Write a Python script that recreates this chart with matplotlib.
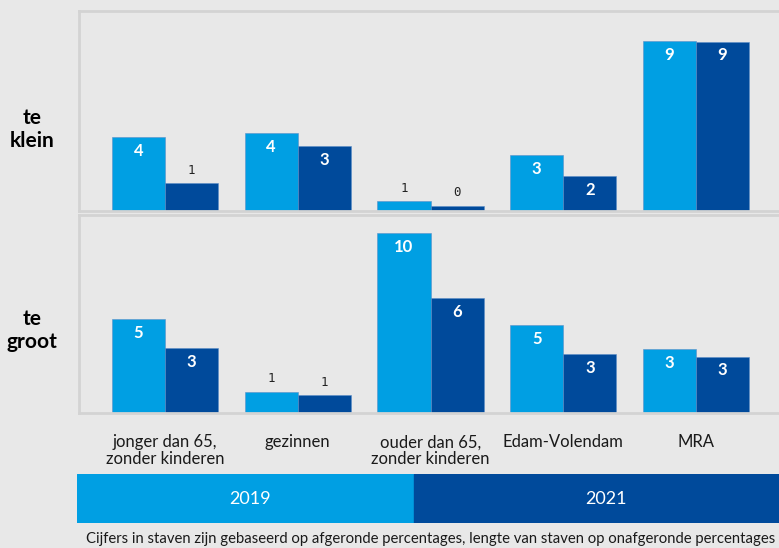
import numpy as np
import matplotlib.pyplot as plt
from matplotlib.patches import Rectangle

plt.rcParams['font.family'] = ['Lato', 'DejaVu Sans']

# Data: bar lengths (unrounded %) and labels (rounded %)
categories = ['jonger dan 65,\nzonder kinderen', 'gezinnen', 'ouder dan 65,\nzonder kinderen',
              'Edam-Volendam', 'MRA']
years = ['2019', '2021']
klein_2019 = [3.9, 4.1, 0.5, 2.95, 9.0]
klein_2021 = [1.45, 3.4, 0.25, 1.85, 8.95]
groot_2019 = [5.0, 1.15, 9.55, 4.65, 3.4]
groot_2021 = [3.45, 0.95, 6.1, 3.15, 3.0]
klein_lbl_2019 = [4, 4, 1, 3, 9]
klein_lbl_2021 = [1, 3, 0, 2, 9]
groot_lbl_2019 = [5, 1, 10, 5, 3]
groot_lbl_2021 = [3, 1, 6, 3, 3]
row_labels = ['te\nklein', 'te\ngroot']
footnote = 'Cijfers in staven zijn gebaseerd op afgeronde percentages, lengte van staven op onafgeronde percentages'

bg = '#e8e8e8'
light = '#009fe3'
dark = '#004a9b'
edge = '#d3d3d3'

fig = plt.figure(figsize=(7.79, 5.48), dpi=100, facecolor=bg)

x = np.arange(len(categories))
w = 0.4


def draw_panel(ax, v19, v21, l19, l21, ytop):
    ax.set_facecolor(bg)
    for vals, lbls, off, col in [(v19, l19, -w/2, light), (v21, l21, w/2, dark)]:
        bars = ax.bar(x + off, vals, w, color=col, edgecolor='#5d8fc8', linewidth=0.4)
        for b, v, l in zip(bars, vals, lbls):
            if v < 1.6:
                # small bars: value above the bar
                ax.annotate(str(l), (b.get_x() + w/2, v), xytext=(0, 9.5), textcoords='offset points',
                            ha='center', va='center', fontsize=9, color='#222222',
                            family='DejaVu Sans Mono')
            else:
                ax.annotate(str(l), (b.get_x() + w/2, v), xytext=(0, -10), textcoords='offset points',
                            ha='center', va='center', fontsize=12, color='white', fontweight='bold')
    ax.set_xlim(-0.648, 4.625)
    ax.set_ylim(0, ytop)
    ax.set_xticks([])
    ax.set_yticks([])
    ax.spines['right'].set_visible(False)
    for s in ['left', 'top', 'bottom']:
        ax.spines[s].set_color(edge)
        ax.spines[s].set_linewidth(2)


ax1 = fig.add_axes([0.1014, 0.6155, 0.8986, 0.3645])
draw_panel(ax1, klein_2019, klein_2021, klein_lbl_2019, klein_lbl_2021, 10.57)
ax2 = fig.add_axes([0.1014, 0.2458, 0.8986, 0.3618])
draw_panel(ax2, groot_2019, groot_2021, groot_lbl_2019, groot_lbl_2021, 10.49)

# Row labels
fig.text(0.041, 0.764, row_labels[0], ha='center', va='center', fontsize=15,
         fontweight='bold', linespacing=1.15)
fig.text(0.041, 0.397, row_labels[1], ha='center', va='center', fontsize=15,
         fontweight='bold', linespacing=1.15)

# Category labels
for xi, cat in zip(x, categories):
    ax2.annotate(cat, (xi, 0), xytext=(0, -15), textcoords='offset points',
                 ha='center', va='top', fontsize=12, color='#1a1a1a', linespacing=1.05,
                 annotation_clip=False)

# Legend band
leg = fig.add_axes([0.0988, 0.0456, 0.9012, 0.0894])
leg.set_xlim(77, 779)
leg.set_ylim(0, 1)
leg.axis('off')
split = 414
leg.add_patch(Rectangle((77, 0), split - 77, 1, color=light))
leg.add_patch(Rectangle((split, 0), 779 - split, 1, color=dark))
leg.text(250, 0.5, years[0], ha='center', va='center', color='white', fontsize=13)
leg.text(606, 0.5, years[1], ha='center', va='center', color='white', fontsize=13)

fig.text(0.11, 0.017, footnote, ha='left', va='center', fontsize=10.7, color='#1a1a1a')

fig.savefig('out.png', dpi=100, facecolor=bg)
